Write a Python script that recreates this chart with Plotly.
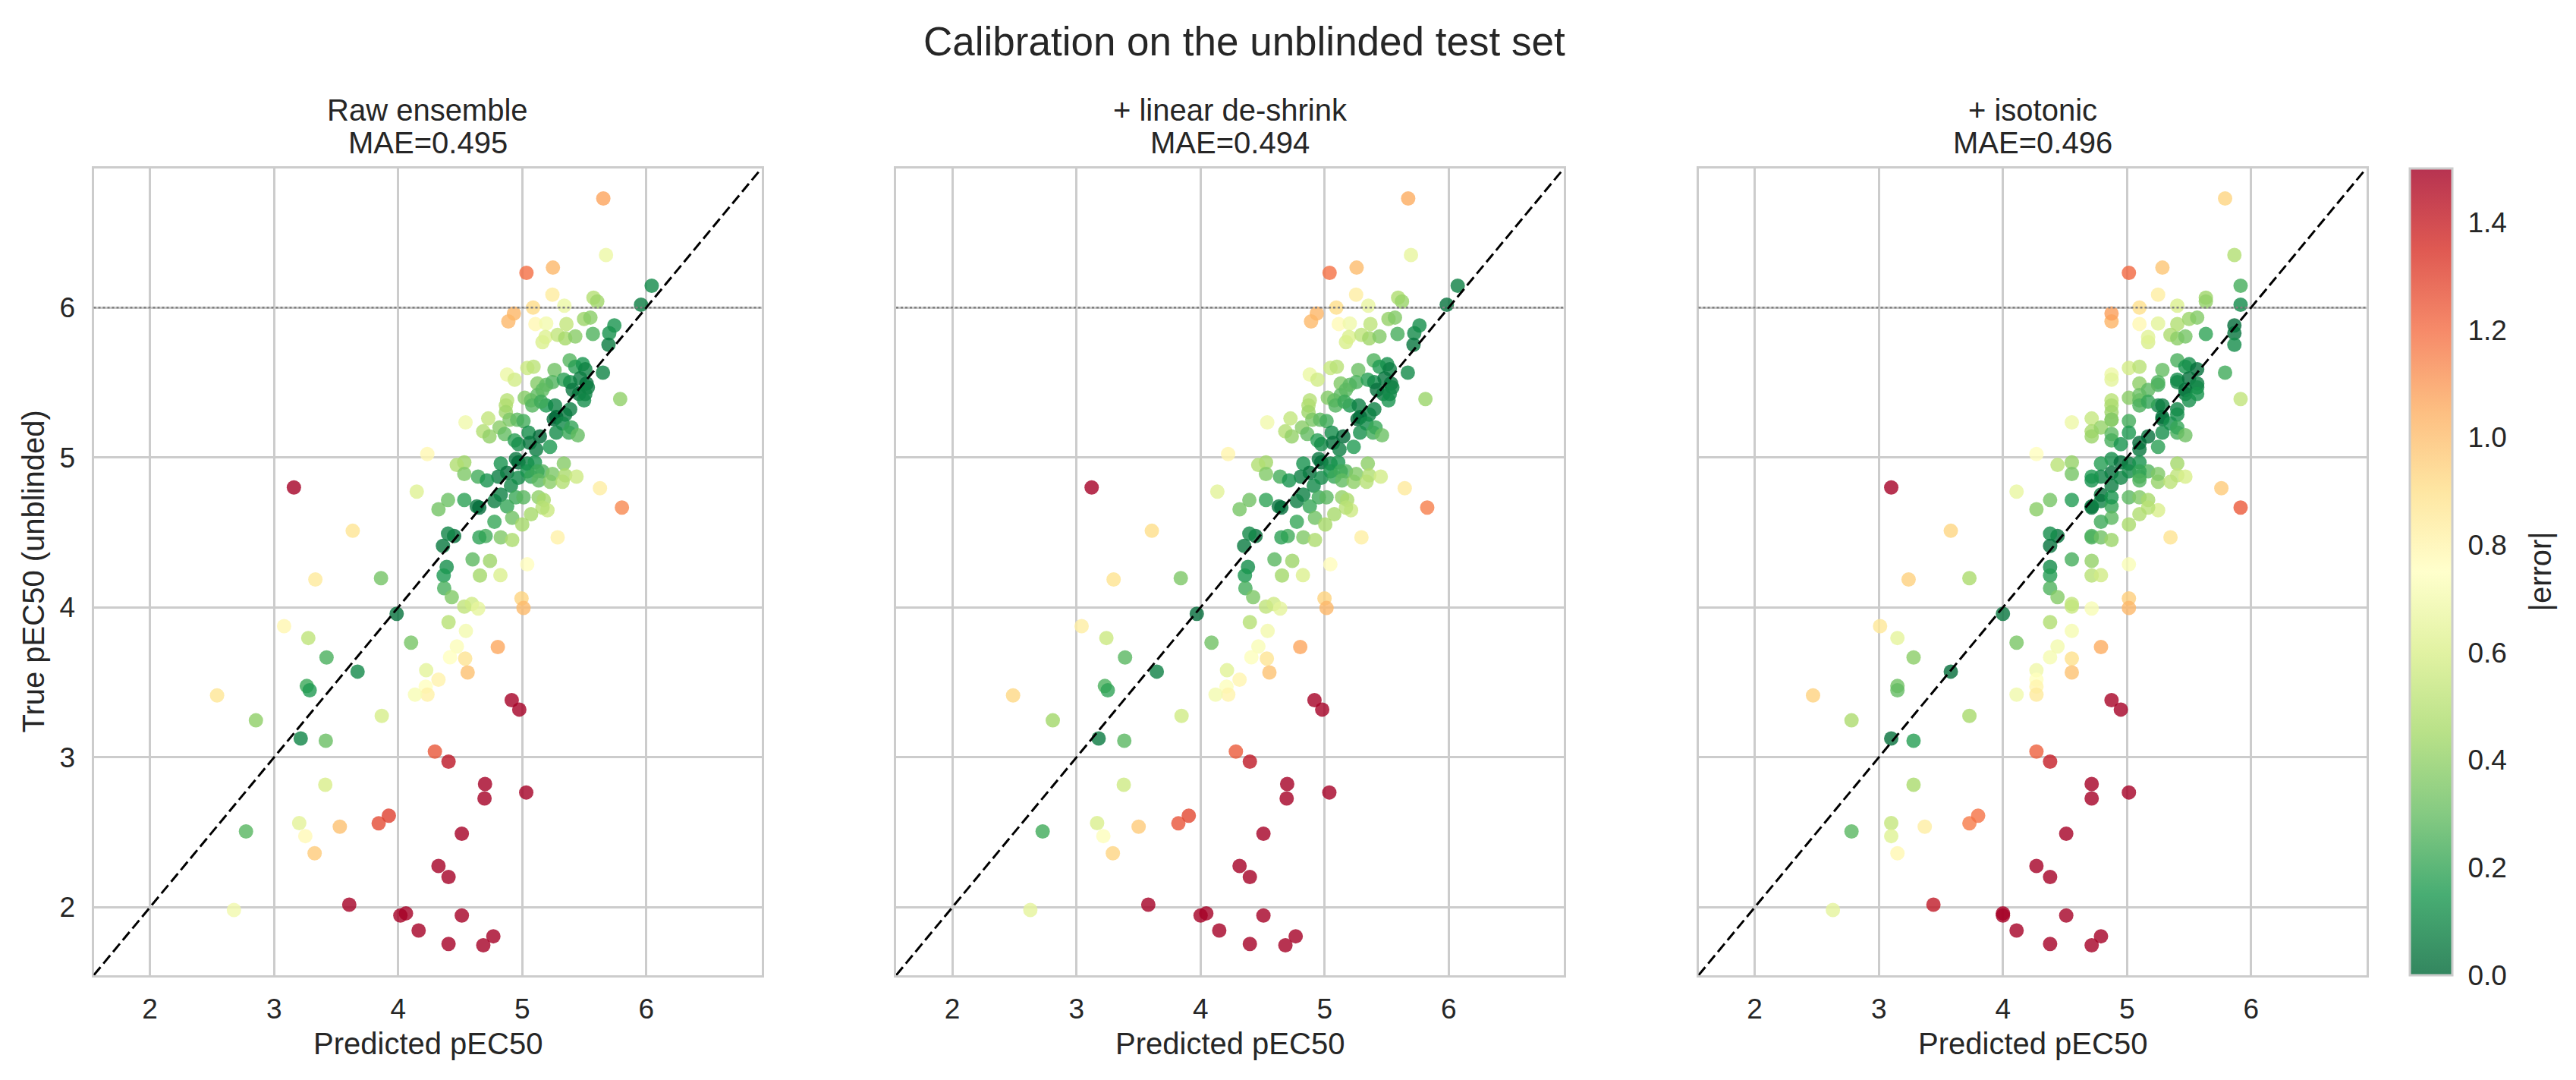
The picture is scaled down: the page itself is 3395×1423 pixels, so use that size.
import numpy as np
import plotly.graph_objects as go

# ---------------- data ----------------
raw_pred = [
    4.888, 5.106, 5.193, 5.356, 5.498, 5.549, 5.742, 5.163, 5.187, 5.285,
    5.346, 5.427, 5.569, 5.701, 5.695, 5.382, 5.427, 5.488, 5.508, 5.650,
    5.260, 5.041, 5.091, 4.878, 4.939, 5.789, 5.122, 5.193, 5.244, 5.335,
    5.386, 5.467, 5.518, 5.528, 5.407, 5.457, 5.498, 5.508, 4.878, 4.868,
    4.868, 5.020, 5.071, 5.122, 5.163, 5.081, 5.193, 5.152, 5.264, 5.386,
    5.346, 5.274, 5.254, 5.325, 5.274, 5.376, 5.396, 5.447, 4.543, 4.726,
    4.685, 4.736, 4.817, 4.858, 4.898, 4.959, 5.010, 5.051, 5.142, 5.224,
    4.939, 4.969, 5.061, 5.112, 4.949, 4.969, 5.041, 5.102, 5.163, 4.827,
    4.878, 4.807, 4.909, 4.969, 5.041, 5.071, 5.122, 5.132, 5.224, 5.244,
    5.335, 5.346, 5.325, 5.437, 5.626, 5.803, 4.533, 4.472, 4.533, 4.644,
    4.715, 4.533, 4.634, 4.654, 4.776, 4.827, 4.878, 4.949, 5.010, 5.132,
    5.173, 5.203, 5.163, 5.071, 4.919, 5.000, 4.776, 4.705, 4.654, 4.827,
    4.919, 5.285, 4.451,
    5.653, 5.675, 5.034, 5.247, 5.243, 6.043, 5.957, 5.339, 5.574, 5.604,
    5.087, 4.933, 4.235, 4.402, 4.325, 4.402, 4.361, 4.600, 4.740, 4.391,
    5.040, 4.367, 4.371, 4.432, 4.533, 4.594, 4.645, 4.659, 4.824, 4.994,
    5.010, 4.406, 4.546, 4.473, 4.418, 4.540, 4.560, 4.803, 4.226, 4.325,
    4.222, 4.236, 4.136, 4.915, 4.976, 4.296, 4.406, 4.700, 4.696, 5.032,
    4.513, 4.325, 4.406, 4.513, 4.406, 4.686, 4.767,
    3.333, 3.862, 3.988, 3.081, 3.276, 3.423, 3.673, 3.264, 3.287, 2.541,
    2.854, 3.215, 3.417, 3.868, 4.104, 3.413, 3.203, 3.252, 3.530, 3.327,
    3.843, 3.925, 2.774, 2.677, 3.606, 4.018, 4.063, 4.165, 3.160, 3.634,
    4.150,
]
true_val = [
    5.907, 5.890, 5.893, 5.890, 5.924, 5.933, 5.881, 5.769, 5.803, 5.817,
    5.795, 5.807, 5.824, 5.829, 5.752, 5.648, 5.605, 5.622, 5.588, 5.566,
    5.583, 5.597, 5.605, 5.553, 5.519, 5.390, 5.493, 5.484, 5.502, 5.519,
    5.502, 5.528, 5.493, 5.467, 5.450, 5.424, 5.381, 5.424, 5.381, 5.347,
    5.303, 5.398, 5.381, 5.416, 5.450, 5.347, 5.347, 5.372, 5.347, 5.321,
    5.286, 5.269, 5.255, 5.226, 5.166, 5.166, 5.200, 5.148, 5.234, 5.260,
    5.174, 5.140, 5.200, 5.157, 5.252, 5.252, 5.243, 5.166, 5.140, 5.071,
    5.114, 5.088, 5.097, 5.053, 4.990, 4.967, 4.959, 4.967, 4.907, 4.959,
    4.898, 4.872, 4.812, 4.864, 4.907, 4.872, 4.907, 4.847, 4.838, 4.890,
    4.959, 4.881, 4.838, 4.872, 4.795, 4.666, 4.967, 4.950, 4.890, 4.872,
    4.847, 4.717, 4.674, 4.666, 4.709, 4.752, 4.674, 4.734, 4.734, 4.734,
    4.717, 4.648, 4.666, 4.622, 4.597, 4.553, 4.571, 4.476, 4.467, 4.467,
    4.450, 4.467, 4.476,
    6.727, 6.350, 6.231, 6.266, 6.086, 6.145, 6.019, 6.012, 6.065, 6.040,
    6.000, 5.960, 5.023, 4.716, 4.655, 4.492, 4.410, 4.320, 4.310, 4.270,
    4.287, 4.213, 4.128, 4.069, 4.005, 4.023, 3.993, 4.213, 4.215, 4.060,
    3.996, 3.902, 3.843, 3.740, 3.668, 3.659, 3.566, 3.736, 3.581, 3.518,
    3.472, 3.418, 3.418, 3.382, 3.319, 3.039, 2.972, 2.822, 2.726, 2.766,
    2.491, 2.276, 2.202, 1.946, 1.756, 1.747, 1.807,
    4.186, 4.195, 3.957, 3.875, 3.796, 3.666, 3.572, 3.476, 3.447, 3.413,
    3.247, 3.126, 3.111, 3.277, 3.765, 2.817, 2.562, 2.475, 2.538, 2.361,
    2.560, 2.611, 2.506, 1.982, 2.018, 1.946, 1.960, 1.846, 4.800, 4.511,
    4.772,
]

deshrink_slope = 1.023
deshrink_intercept = -0.110

iso_upper = [2.60, 2.72, 2.95, 3.15, 3.26, 3.33, 3.38, 3.48, 3.58, 3.62,
             3.70, 3.90, 3.96, 4.08, 4.20, 4.34, 4.42, 4.50, 4.52, 4.62,
             4.75, 4.85, 4.96, 4.99, 5.06, 5.14, 5.19, 5.245, 5.28, 5.33,
             5.40, 5.46, 5.50, 5.55, 5.615, 5.64, 5.67, 5.76, 9.99]
iso_level = [2.47, 2.63, 2.78, 3.01, 3.10, 3.15, 3.24, 3.28, 3.37, 3.44,
             3.58, 3.73, 3.80, 4.00, 4.11, 4.27, 4.38, 4.44, 4.51, 4.555,
             4.715, 4.79, 4.875, 4.95, 5.015, 5.10, 5.17, 5.25, 5.285, 5.35,
             5.405, 5.47, 5.50, 5.565, 5.635, 5.76, 5.79, 5.865, 5.915]

panel_titles = ["Raw ensemble", "+ linear de-shrink", "+ isotonic"]
panel_mae = ["MAE=0.495", "MAE=0.494", "MAE=0.496"]
x_ticks = [2, 3, 4, 5, 6]
y_ticks = [2, 3, 4, 5, 6]
cbar_ticks = [0.0, 0.2, 0.4, 0.6, 0.8, 1.0, 1.2, 1.4]
potency_cut = 6.0

# ---------------- derived ----------------
raw = np.array(raw_pred)
y = np.array(true_val)
lin = deshrink_slope * raw + deshrink_intercept
iso = np.array(iso_level)[np.searchsorted(np.array(iso_upper), raw, side="left")]
preds = [raw, lin, iso]

allv = np.concatenate([raw, lin, iso, y])
lo, hi = allv.min() - 0.2, allv.max() + 0.2

rdylgn_r = ["#006837", "#1a9850", "#66bd63", "#a6d96a", "#d9ef8b", "#ffffbf",
            "#fee08b", "#fdae61", "#f46d43", "#d73027", "#a50026"]
cs = [[i / (len(rdylgn_r) - 1), c] for i, c in enumerate(rdylgn_r)]


def blend(h, a=0.8):
    h = h.lstrip("#")
    r, g, b = (int(h[i:i + 2], 16) for i in (0, 2, 4))
    return "rgb(%d,%d,%d)" % tuple(round(a * v + (1 - a) * 255) for v in (r, g, b))


cs_blend = [[i / (len(rdylgn_r) - 1), blend(c)] for i, c in enumerate(rdylgn_r)]

W, H = 3395, 1423
px_dom = [(123.5, 1003.5), (1181, 2061), (2238.5, 3118.5)]
top_px, bot_px = 222, 1285
ydom = [1 - bot_px / H, 1 - top_px / H]

FONT = "Liberation Sans, Arial, Helvetica, sans-serif"
TXT = "#262626"

fig = go.Figure()
for i, p in enumerate(preds):
    ax = "" if i == 0 else str(i + 1)
    fig.add_trace(go.Scatter(
        x=p, y=y, mode="markers", xaxis="x" + ax, yaxis="y" + ax,
        marker=dict(size=19, color=np.abs(p - y), colorscale=cs, cmin=0, cmax=1.5,
                    opacity=0.8, line=dict(width=0)),
        showlegend=False, hoverinfo="skip"))

# colorbar holder
fig.add_trace(go.Scatter(
    x=[None], y=[None], mode="markers", xaxis="x3", yaxis="y3", showlegend=False,
    marker=dict(color=[0], colorscale=cs_blend, cmin=0, cmax=1.5, showscale=True,
                colorbar=dict(x=3166 / W, xanchor="left", xpad=10, thickness=56,
                              len=(bot_px - top_px) / H, lenmode="fraction",
                              y=(ydom[0] + ydom[1]) / 2, yanchor="middle", ypad=0,
                              outlinewidth=3, outlinecolor="#cccccc",
                              tickvals=cbar_ticks, ticktext=["%.1f" % v for v in cbar_ticks],
                              ticks="outside", ticklen=12, tickcolor="rgba(0,0,0,0)",
                              tickfont=dict(family=FONT, size=37, color=TXT)))))

axis_common = dict(range=[lo, hi], showgrid=True, gridcolor="#cccccc", gridwidth=2.5,
                   zeroline=False, showline=True, linecolor="#cccccc", linewidth=3,
                   mirror=True, tickfont=dict(family=FONT, size=37, color=TXT),
                   ticks="outside", tickcolor="rgba(0,0,0,0)")

layout = dict(width=W, height=H, margin=dict(l=0, r=0, t=0, b=0),
              paper_bgcolor="white", plot_bgcolor="white", showlegend=False)
for i in range(3):
    ax = "" if i == 0 else str(i + 1)
    d0, d1 = px_dom[i]
    layout["xaxis" + ax] = dict(axis_common, domain=[d0 / W, d1 / W], tickvals=x_ticks,
                                ticklen=10, anchor="y" + ax)
    ya = dict(axis_common, domain=ydom, tickvals=y_ticks, ticklen=14, anchor="x" + ax)
    if i > 0:
        ya.update(showticklabels=False, matches="y")
    layout["yaxis" + ax] = ya
fig.update_layout(**layout)

shapes, annos = [], []
for i in range(3):
    ax = "" if i == 0 else str(i + 1)
    shapes.append(dict(type="line", xref="x" + ax + " domain", yref="y" + ax,
                       x0=0, x1=1, y0=potency_cut, y1=potency_cut,
                       line=dict(color="#808080", width=2.5, dash="3px,3px")))
    shapes.append(dict(type="line", xref="x" + ax, yref="y" + ax,
                       x0=lo, y0=lo, x1=hi, y1=hi,
                       line=dict(color="black", width=3, dash="14px,6px")))
    cx = (px_dom[i][0] + px_dom[i][1]) / 2 / W
    annos.append(dict(text=panel_titles[i], x=cx, y=1 - 145 / H, xref="paper", yref="paper",
                      showarrow=False, xanchor="center", yanchor="middle",
                      font=dict(family=FONT, size=40, color=TXT)))
    annos.append(dict(text=panel_mae[i], x=cx, y=1 - 188 / H, xref="paper", yref="paper",
                      showarrow=False, xanchor="center", yanchor="middle",
                      font=dict(family=FONT, size=40, color=TXT)))
    annos.append(dict(text="Predicted pEC50", x=cx, y=1 - 1375 / H, xref="paper", yref="paper",
                      showarrow=False, xanchor="center", yanchor="middle",
                      font=dict(family=FONT, size=40, color=TXT)))

annos.append(dict(text="True pEC50 (unblinded)", x=44 / W, y=(ydom[0] + ydom[1]) / 2,
                  xref="paper", yref="paper", showarrow=False, textangle=-90,
                  xanchor="center", yanchor="middle",
                  font=dict(family=FONT, size=40, color=TXT)))
annos.append(dict(text="Calibration on the unblinded test set", x=1640 / W, y=1 - 54 / H,
                  xref="paper", yref="paper", showarrow=False, xanchor="center",
                  yanchor="middle", font=dict(family=FONT, size=53, color=TXT)))
annos.append(dict(text="|error|", x=3348 / W, y=(ydom[0] + ydom[1]) / 2,
                  xref="paper", yref="paper", showarrow=False, textangle=-90,
                  xanchor="center", yanchor="middle",
                  font=dict(family=FONT, size=40, color=TXT)))

fig.update_layout(shapes=shapes, annotations=annos)
fig.write_html("out.html")
